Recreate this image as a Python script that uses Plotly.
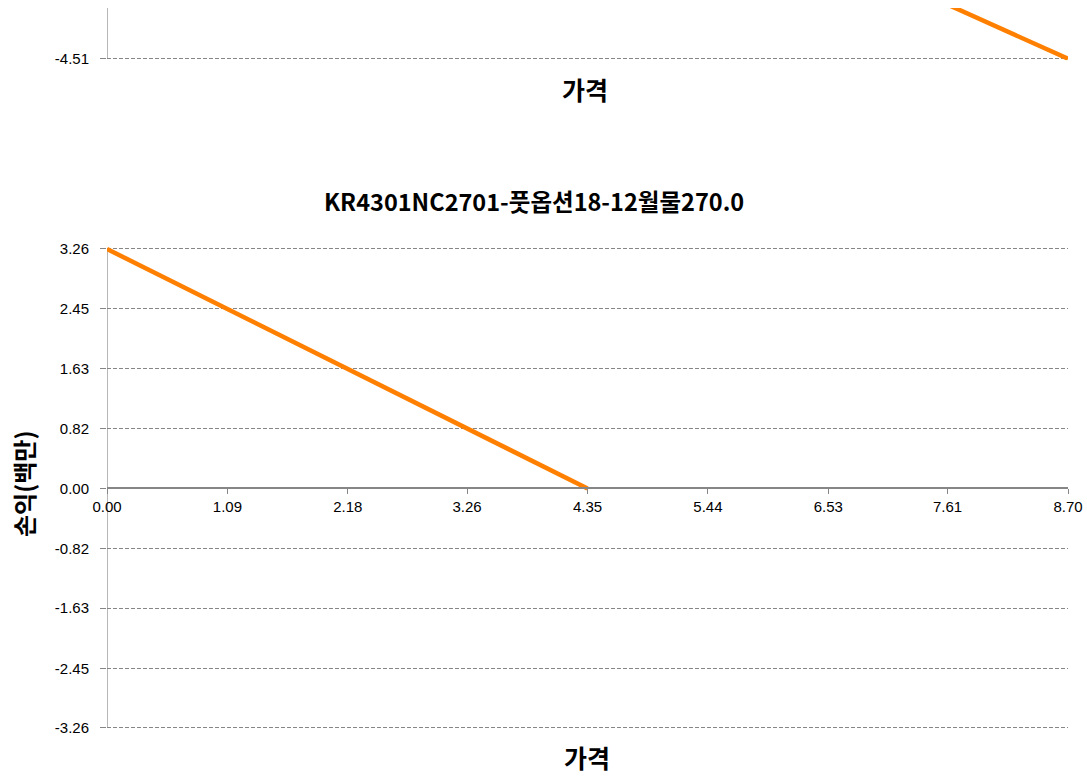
import plotly.graph_objects as go

# ---- data ----
main_title = "KR4301NC2701-풋옵션18-12월물270.0"
x_label = "가격"
y_label = "손익(백만)"

price = [0.00, 4.35]
pnl = [3.26, 0.00]

x_ticks = [0.00, 1.09, 2.18, 3.26, 4.35, 5.44, 6.53, 7.61, 8.70]
y_ticks = [3.26, 2.45, 1.63, 0.82, 0.00, -0.82, -1.63, -2.45, -3.26]

# previous (cropped) chart above
prev_price = [7.61, 8.70]
prev_pnl = [-3.40, -4.51]
prev_y_ticks = [-4.51]

W, H = 1087, 776
GRID = "#868686"
ORANGE = "#FF8000"
TICKFONT = dict(family="Liberation Sans, Arial", size=15, color="#000000")
KFONT = "Noto Sans CJK KR"

def px_x(p):
    return p / W

def px_y(p):
    return 1 - p / H

fig = go.Figure()

fig.add_trace(go.Scatter(x=price, y=pnl, mode="lines",
                         line=dict(color=ORANGE, width=4.5),
                         xaxis="x", yaxis="y", showlegend=False,
                         hoverinfo="skip"))
fig.add_trace(go.Scatter(x=prev_price, y=prev_pnl, mode="lines",
                         line=dict(color=ORANGE, width=4.5),
                         xaxis="x2", yaxis="y2", showlegend=False,
                         hoverinfo="skip"))

dom_x = [px_x(107), px_x(1068)]
# small padding so gridlines at the range ends are drawn
pad = 0.03
ppu = (728 - 249) / 6.52

fig.update_layout(
    width=W, height=H,
    margin=dict(l=0, r=0, t=0, b=0, autoexpand=False),
    paper_bgcolor="white", plot_bgcolor="white",
    showlegend=False,
    xaxis=dict(
        domain=dom_x, range=[0, 8.70],
        anchor="free", position=px_y(488), automargin=False,
        tickvals=x_ticks, ticktext=[f"{v:.2f}" for v in x_ticks],
        ticks="outside", ticklen=5, tickcolor=GRID, tickwidth=1,
        showline=True, linecolor=GRID, linewidth=1.5,
        showgrid=False, zeroline=False,
        tickfont=TICKFONT,
    ),
    yaxis=dict(
        domain=[px_y(728 + pad * ppu), px_y(249 - pad * ppu)],
        range=[-3.26 - pad, 3.26 + pad],
        anchor="x", automargin=False,
        tickvals=y_ticks, ticktext=[f"{v:.2f}" for v in y_ticks],
        ticks="outside", ticklen=6, tickcolor=GRID, tickwidth=1,
        ticklabelstandoff=8,
        showline=False,
        showgrid=True, gridcolor=GRID, gridwidth=1, griddash="4px,2px",
        zeroline=False,
        tickfont=TICKFONT,
    ),
    xaxis2=dict(
        domain=dom_x, range=[0, 8.70], anchor="y2",
        visible=False, automargin=False,
    ),
    yaxis2=dict(
        domain=[px_y(58 + pad * ppu), px_y(8)], range=[-4.51 - pad, -3.47],
        anchor="x2", automargin=False,
        tickvals=prev_y_ticks, ticktext=[f"{v:.2f}" for v in prev_y_ticks],
        ticks="outside", ticklen=6, tickcolor=GRID, tickwidth=1,
        ticklabelstandoff=8,
        showline=False,
        showgrid=True, gridcolor=GRID, gridwidth=1, griddash="4px,2px",
        zeroline=False,
        tickfont=TICKFONT,
    ),
    shapes=[
        dict(type="line", xref="x", yref="y", x0=0, x1=0, y0=-3.26, y1=3.26,
             line=dict(color=GRID, width=1.2), layer="below"),
        dict(type="line", xref="x2", yref="y2", x0=0, x1=0, y0=-4.51, y1=-3.47,
             line=dict(color=GRID, width=1.2), layer="below"),
    ],
    annotations=[
        dict(text=f"<b>{main_title}</b>", x=px_x(534), y=px_y(201),
             xref="paper", yref="paper", showarrow=False,
             xanchor="center", yanchor="middle",
             font=dict(family=KFONT, size=23.5, color="#000000")),
        dict(text=f"<b>{x_label}</b>", x=px_x(587), y=px_y(757),
             xref="paper", yref="paper", showarrow=False,
             xanchor="center", yanchor="middle",
             font=dict(family=KFONT, size=25, color="#000000")),
        dict(text=f"<b>{x_label}</b>", x=px_x(585), y=px_y(89),
             xref="paper", yref="paper", showarrow=False,
             xanchor="center", yanchor="middle",
             font=dict(family=KFONT, size=25, color="#000000")),
        dict(text=f"<b>{y_label}</b>", x=px_x(23), y=px_y(484),
             xref="paper", yref="paper", showarrow=False, textangle=-90,
             xanchor="center", yanchor="middle",
             font=dict(family=KFONT, size=24, color="#000000")),
    ],
)

fig.write_html(
    "out.html",
    config={"displayModeBar": False},
    post_script="document.body.style.margin='0';document.body.style.overflow='hidden';",
)
